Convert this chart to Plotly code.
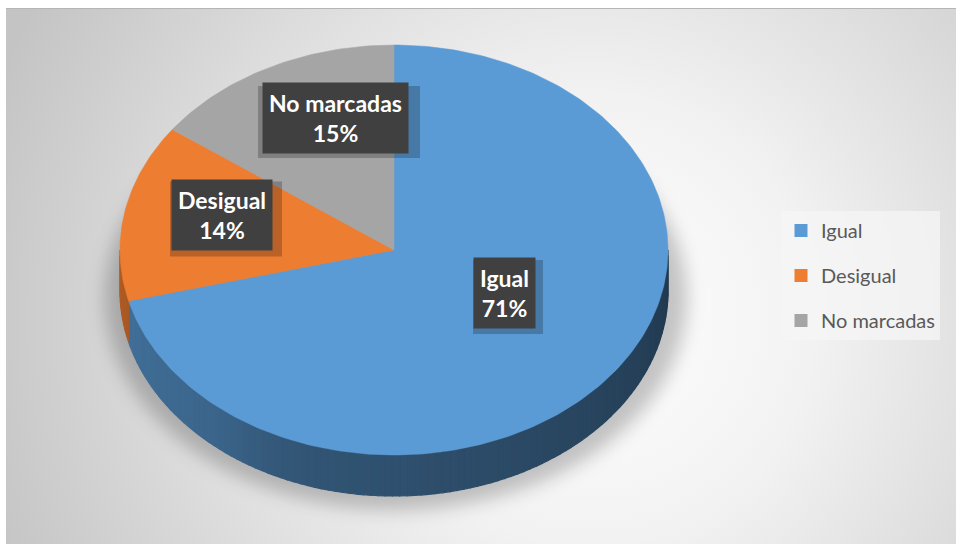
import base64
import numpy as np
import plotly.graph_objects as go

# ---- data ----
labels = ["Igual", "Desigual", "No marcadas"]
values = [71, 14, 15]
colors = ["#5B9BD5", "#ED7D31", "#A5A5A5"]

# ---- geometry (3D-looking elliptical pie), in screen pixels ----
W, H = 956, 544
CX, CY, RX, RY, DEPTH = 394, 250, 274, 205, 41

total = float(sum(values))
fr = np.cumsum([0] + values) / total
angles = fr * 2 * np.pi  # clockwise from 12 o'clock


def arc(t0, t1, dy=0.0, n=None):
    if n is None:
        n = max(4, int(abs(t1 - t0) / (2 * np.pi) * 360))
    t = np.linspace(t0, t1, n)
    return CX + RX * np.sin(t), CY - RY * np.cos(t) + dy


def hex2rgb(h):
    h = h.lstrip("#")
    return [int(h[i:i + 2], 16) for i in (0, 2, 4)]


fig = go.Figure()

# side faces (front visible half: angles pi/2 .. 3pi/2)
for i, lab in enumerate(labels):
    a0, a1 = angles[i], angles[i + 1]
    s0, s1 = max(a0, np.pi / 2), min(a1, 3 * np.pi / 2)
    if s1 <= s0:
        continue
    edges = np.linspace(s0, s1, max(2, int((s1 - s0) / np.radians(1.5)) + 1))
    base = hex2rgb(colors[i])
    for e0, e1 in zip(edges[:-1], edges[1:]):
        deg = np.degrees((e0 + e1) / 2)
        f = 0.74 - 0.30 * (270 - deg) / 180
        f -= 0.07 * (1 / (1 + np.exp((deg - 212) / 4)))
        c = "rgb({},{},{})".format(*[int(v * f) for v in base])
        xt, yt = arc(e0, e1, 0, 3)
        xb, yb = arc(e1, e0, DEPTH, 3)
        fig.add_trace(go.Scatter(
            x=list(xt) + list(xb) + [xt[0]], y=list(yt) + list(yb) + [yt[0]],
            fill="toself", fillcolor=c, mode="lines",
            line=dict(color=c, width=1.2), hoverinfo="skip", showlegend=False))

# top faces
for i, lab in enumerate(labels):
    xs, ys = arc(angles[i], angles[i + 1])
    fig.add_trace(go.Scatter(
        x=[CX] + list(xs) + [CX], y=[CY] + list(ys) + [CY],
        fill="toself", fillcolor=colors[i], mode="lines",
        line=dict(color=colors[i], width=0.5),
        name=lab, hoverinfo="name", showlegend=False))

# legend entries
for i, lab in enumerate(labels):
    fig.add_trace(go.Scatter(
        x=[None], y=[None], mode="markers", name=lab, legendgroup=lab,
        marker=dict(symbol="square", size=13, color=colors[i])))

# data labels (centre of box) and their shadow boxes
label_pos = {"Igual": (504, 293), "Desigual": (222, 215), "No marcadas": (335, 118)}
label_box = {"Igual": (70, 74), "Desigual": (112, 75), "No marcadas": (162, 72)}
for i, lab in enumerate(labels):
    x, y = label_pos[lab]
    bw, bh = label_box[lab]
    fig.add_shape(type="rect", x0=x - bw / 2 + 4, x1=x + bw / 2 + 4,
                  y0=y - bh / 2 + 4, y1=y + bh / 2 + 4,
                  fillcolor="rgba(0,0,0,0.22)", line=dict(width=0), layer="above")
for i, lab in enumerate(labels):
    pct = round(values[i] / total * 100)
    txt = "<b>{}</b><br><b>{}%</b>".format(lab, pct)
    x, y = label_pos[lab]
    fig.add_annotation(x=x, y=y, text=txt, showarrow=False,
                       font=dict(family="Lato", size=23, color="white"),
                       bgcolor="#404040", borderpad=6)

svg = f"""<svg xmlns='http://www.w3.org/2000/svg' width='{W}' height='{H}' viewBox='0 0 {W} {H}'>
<defs>
<radialGradient id='g' gradientUnits='userSpaceOnUse' cx='590' cy='320' r='640'>
<stop offset='0' stop-color='#ffffff'/><stop offset='0.35' stop-color='#f2f2f2'/><stop offset='1' stop-color='#c4c4c4'/>
</radialGradient>
<filter id='b' x='-20%' y='-20%' width='140%' height='140%'><feGaussianBlur stdDeviation='9'/></filter>
</defs>
<rect x='0' y='0' width='{W}' height='{H}' fill='#ffffff'/>
<rect x='6' y='8' width='{W - 6}' height='{H - 8}' fill='url(#g)'/>
<line x1='6' y1='8.5' x2='{W}' y2='8.5' stroke='#b5b5b5' stroke-width='1'/>
<ellipse cx='396' cy='298' rx='291' ry='212' fill='#000' fill-opacity='0.22' filter='url(#b)'/>
</svg>"""
src = "data:image/svg+xml;base64," + base64.b64encode(svg.encode()).decode()

fig.update_layout(
    width=W, height=H,
    margin=dict(l=0, r=0, t=0, b=0),
    paper_bgcolor="white", plot_bgcolor="rgba(0,0,0,0)",
    xaxis=dict(range=[0, W], visible=False, fixedrange=True),
    yaxis=dict(range=[H, 0], visible=False, fixedrange=True),
    images=[dict(source=src, xref="paper", yref="paper", x=0, y=1,
                 sizex=1, sizey=1, sizing="stretch", layer="below")],
    legend=dict(x=781 / W, y=1 - 211 / H, xanchor="left", yanchor="top",
                bgcolor="rgba(246,246,246,0.75)",
                font=dict(family="Lato", size=20, color="#595959"),
                tracegroupgap=16, itemwidth=30),
    font=dict(family="Lato"),
    hovermode="closest",
)

fig.write_html(
    "out.html",
    config={"displayModeBar": False},
    post_script="document.body.style.margin='0';"
                "document.body.style.overflow='hidden';"
                "document.documentElement.style.overflow='hidden';",
)
